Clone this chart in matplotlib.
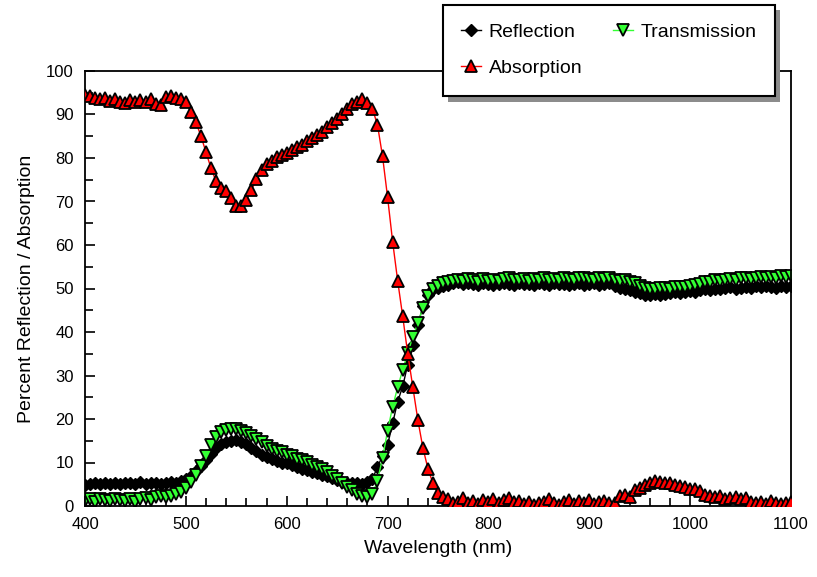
"""Reflection / transmission / absorption spectra of a leaf, 400-1100 nm."""
import numpy as np
import matplotlib
matplotlib.use('Agg')
import matplotlib.pyplot as plt
from matplotlib.patches import Rectangle
from matplotlib.ticker import MultipleLocator

plt.rcParams['font.family'] = ['Liberation Sans', 'DejaVu Sans']

# wavelength grid of the measurement (nm)
wavelength = np.arange(400, 1101, 5)

# percent reflection
reflection = [
    4.8, 5.0, 5.2, 5.0, 5.3, 5.1, 5.4, 5.0, 5.2, 5.3,
    5.0, 5.5, 5.1, 5.2, 5.4, 5.0, 5.3, 5.5, 5.4, 5.8,
    6.2, 7.0, 8.0, 9.2, 10.6, 12.0, 13.3, 14.2, 14.8, 15.0,
    15.1, 14.8, 14.2, 13.3, 12.6, 11.8, 11.2, 10.7, 10.4, 10.0,
    9.8, 9.4, 9.0, 8.6, 8.2, 7.8, 7.5, 7.2, 6.8, 6.4,
    6.0, 5.6, 5.4, 5.2, 5.3, 5.1, 5.5, 6.2, 9.0, 11.5,
    14.0, 19.0, 24.0, 27.5, 32.5, 37.0, 41.6, 46.0, 48.6, 49.8,
    50.2, 50.6, 50.9, 51.2, 51.4, 51.0, 51.3, 51.1, 50.8, 51.2,
    51.0, 50.7, 51.1, 51.3, 51.0, 50.8, 51.2, 51.0, 51.1, 50.9,
    51.3, 51.0, 50.8, 51.2, 51.0, 51.1, 50.7, 51.0, 51.2, 50.9,
    51.1, 51.3, 50.8, 51.0, 51.2, 50.6, 50.2, 50.0, 49.6, 49.2,
    48.9, 48.6, 48.4, 48.7, 48.5, 48.8, 48.9, 49.1, 49.0, 49.2,
    49.4, 49.3, 49.6, 49.8, 49.7, 50.0, 49.8, 50.1, 50.3, 50.0,
    50.2, 50.4, 50.1, 50.5, 50.3, 50.6, 50.4, 50.2, 50.6, 50.3,
    50.5,
]

# percent transmission
transmission = [
    1.2, 1.5, 1.0, 1.6, 1.3, 1.1, 1.7, 1.4, 1.2, 1.6,
    1.0, 1.5, 1.8, 1.4, 2.0, 2.2, 2.0, 2.4, 2.8, 3.2,
    4.2, 5.6, 7.1, 9.2, 11.5, 14.0, 15.9, 16.9, 17.4, 17.6,
    17.6, 17.2, 16.8, 16.2, 15.4, 14.6, 13.8, 13.2, 12.7, 12.3,
    11.8, 11.4, 10.9, 10.5, 10.1, 9.5, 9.0, 8.4, 7.8, 7.0,
    6.2, 5.4, 4.4, 3.6, 2.8, 2.3, 2.0, 2.8, 5.8, 11.0,
    17.3, 22.8, 27.3, 31.3, 35.2, 38.8, 42.0, 45.6, 48.3, 49.8,
    50.6, 51.2, 51.6, 51.8, 52.0, 51.8, 52.2, 52.0, 51.6, 52.1,
    51.8, 52.0, 51.7, 52.1, 52.3, 51.9, 52.0, 52.2, 51.8, 52.1,
    52.0, 52.3, 51.9, 52.2, 52.0, 52.4, 52.1, 51.9, 52.3, 52.5,
    52.2, 52.0, 52.4, 52.1, 52.3, 52.0, 51.8, 51.9, 51.5, 51.2,
    50.6, 50.2, 50.0, 49.9, 50.1, 50.2, 50.0, 50.3, 50.4, 50.3,
    50.6, 50.8, 51.0, 51.4, 51.6, 51.9, 51.7, 52.0, 52.2, 51.9,
    52.3, 52.4, 52.1, 52.5, 52.6, 52.3, 52.7, 52.5, 52.8, 52.6,
    52.8,
]

# percent absorption
absorption = [
    94.5, 94.2, 93.8, 93.5, 93.8, 93.2, 93.5, 92.8, 92.6, 93.4,
    92.8, 93.4, 92.8, 93.5, 92.3, 92.2, 94.0, 94.2, 93.8, 93.6,
    92.8, 90.6, 88.2, 85.0, 81.3, 77.6, 74.6, 73.2, 72.5, 70.8,
    68.9, 69.0, 70.3, 72.6, 75.2, 77.3, 78.6, 79.4, 80.2, 80.6,
    81.2, 81.8, 82.6, 83.1, 84.0, 84.6, 85.3, 86.0, 87.1, 88.0,
    89.0, 90.1, 91.2, 92.3, 92.9, 93.5, 92.7, 91.3, 87.6, 80.4,
    71.0, 60.8, 51.8, 43.6, 35.0, 27.4, 19.8, 13.4, 8.6, 5.2,
    3.0, 2.0, 1.5, 0.8, 1.0, 1.8, 0.6, 1.2, 0.5, 1.4,
    1.0, 1.7, 0.8, 1.3, 1.9, 0.9, 1.2, 0.4, 0.9, 0.2,
    0.6, 1.0, 1.6, 0.7, 0.3, 0.9, 1.4, 0.5, 1.1, 0.8,
    1.3, 0.4, 0.9, 1.2, 0.8, 0.7, 2.4, 2.6, 2.1, 3.6,
    4.2, 4.8, 5.3, 5.8, 5.5, 5.2, 5.4, 4.9, 4.7, 4.4,
    4.0, 3.8, 3.5, 2.6, 2.4, 2.0, 2.2, 1.6, 1.9, 2.1,
    1.5, 1.8, 1.0, 0.6, 0.9, 0.4, 1.2, 0.7, 0.5, 0.8,
    0.9,
]

fig = plt.figure(figsize=(8.17, 5.77), dpi=100)
ax = fig.add_axes([85 / 817, 1 - 506 / 577, 706 / 817, 435 / 577])

ax.plot(wavelength, reflection, color='black', lw=1, marker='D', ms=6.5,
        mfc='black', mec='black', mew=1, label='Reflection')
ax.plot(wavelength, absorption, color='red', lw=1, marker='^', ms=9,
        mfc='red', mec='black', mew=1.3, label='Absorption', zorder=3)
ax.plot(wavelength, transmission, color='#33ff33', lw=1, marker='v', ms=9,
        mfc='#33ff33', mec='black', mew=1.3, label='Transmission', zorder=2.5)

ax.set_xlim(400, 1100)
ax.set_ylim(0, 100)
ax.xaxis.set_major_locator(MultipleLocator(100))
ax.xaxis.set_minor_locator(MultipleLocator(20))
ax.yaxis.set_major_locator(MultipleLocator(10))
ax.yaxis.set_minor_locator(MultipleLocator(5))
ax.tick_params(which='both', direction='in', top=False, right=False,
               width=1.2, labelsize=12, colors='black')
ax.tick_params(which='major', length=7, pad=8)
ax.tick_params(which='minor', length=6)
for s in ax.spines.values():
    s.set_linewidth(1.3)

ax.set_xlabel('Wavelength (nm)', fontsize=14, labelpad=6)
ax.set_ylabel('Percent Reflection / Absorption', fontsize=14, labelpad=8)

# legend box with a gray drop shadow
fig.patches.append(Rectangle((448 / 817, 1 - 102 / 577), 332 / 817, 92 / 577,
                             transform=fig.transFigure, facecolor='#8c8c8c',
                             edgecolor='none', zorder=4))
handles, labels = ax.get_legend_handles_labels()
leg = fig.legend(handles, labels, ncol=2, loc='upper left',
                 bbox_to_anchor=(443 / 817, 1 - 5 / 577, 332 / 817, 0),
                 mode='expand', borderaxespad=0, fontsize=14, fancybox=False,
                 framealpha=1, edgecolor='black', handlelength=1.0,
                 handletextpad=0.4, columnspacing=2.0, labelspacing=0.95,
                 borderpad=0.95)
leg.get_frame().set_linewidth(1.5)
leg.set_zorder(5)

fig.savefig('out.png', dpi=100)
